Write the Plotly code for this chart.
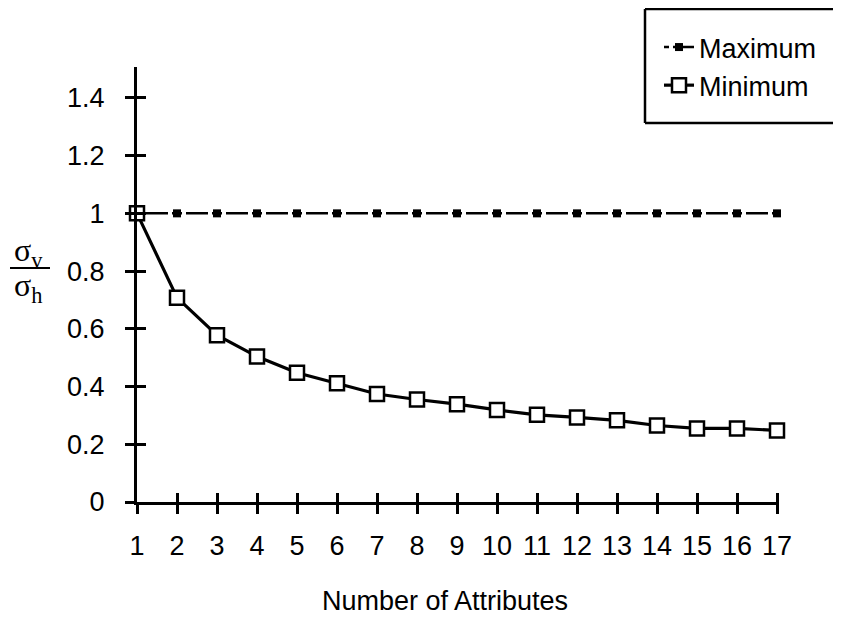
import plotly.graph_objects as go

# ---- data ----
attributes = list(range(1, 18))
maximum = [1.0, 1.0, 1.0, 1.0, 1.0, 1.0, 1.0, 1.0, 1.0, 1.0, 1.0, 1.0, 1.0, 1.0, 1.0, 1.0, 1.0]
minimum = [1.0, 0.708, 0.578, 0.504, 0.448, 0.411, 0.374, 0.355, 0.339, 0.319,
           0.302, 0.293, 0.283, 0.265, 0.255, 0.255, 0.248]
x_ticks = list(range(1, 18))
y_ticks = [0, 0.2, 0.4, 0.6, 0.8, 1.0, 1.2, 1.4]
y_tick_labels = ["0", "0.2", "0.4", "0.6", "0.8", "1", "1.2", "1.4"]

# ---- layout geometry (page has an 8px body margin) ----
OFF = 8
W, H = 841 - OFF, 619 - OFF
L, T = 137 - OFF, 67 - OFF
PW, PH = 642, 435
R = W - L - PW
B = H - T - PH
FONT = "Liberation Sans, Arial, Helvetica, sans-serif"
SERIF = "Liberation Serif, Times New Roman, serif"


def px_x(page_x):
    return (page_x - OFF - L) / PW


def px_y(page_y):
    return (T + PH - (page_y - OFF)) / PH


fig = go.Figure()

fig.add_trace(go.Scatter(
    x=attributes, y=maximum, name="Maximum", mode="lines+markers",
    line=dict(color="black", width=2.5, dash="5px,4px,22px,4px,5px,0px"),
    marker=dict(symbol="square", size=8, color="black"),
    cliponaxis=False,
))
fig.add_trace(go.Scatter(
    x=attributes, y=minimum, name="Minimum", mode="lines+markers",
    line=dict(color="black", width=3.2),
    marker=dict(symbol="square", size=14, color="white",
                line=dict(color="black", width=2.5)),
    cliponaxis=False,
))
# helper trace for overlay tick axes
fig.add_trace(go.Scatter(x=[None], y=[None], xaxis="x2", yaxis="y2",
                         showlegend=False, hoverinfo="skip"))

xr = [1, 17.05]
yr = [0, 1.507]
TS = 27

fig.update_layout(
    width=W, height=H,
    margin=dict(l=L, r=R, t=T, b=B, pad=0),
    paper_bgcolor="white", plot_bgcolor="white",
    font=dict(family=FONT, color="black", size=TS),
    xaxis=dict(range=xr, tickvals=x_ticks, ticks="outside", ticklen=9,
               tickwidth=2.5, tickcolor="black", showline=True, linewidth=3,
               linecolor="black", showgrid=False, zeroline=False,
               tickfont=dict(size=TS, family=FONT), ticklabelstandoff=9),
    yaxis=dict(range=yr, tickvals=y_ticks, ticktext=y_tick_labels,
               ticks="outside", ticklen=9, tickwidth=2.5, tickcolor="black",
               showline=True, linewidth=3, linecolor="black", showgrid=False,
               zeroline=False, tickfont=dict(size=TS, family=FONT),
               ticklabelstandoff=15),
    xaxis2=dict(range=xr, overlaying="x", anchor="y2", side="bottom",
                tickvals=x_ticks, ticks="inside", ticklen=9, tickwidth=2.5,
                tickcolor="black", showticklabels=False, showline=False,
                showgrid=False, zeroline=False),
    yaxis2=dict(range=yr, overlaying="y", anchor="x2", side="left",
                tickvals=y_ticks, ticks="inside", ticklen=9, tickwidth=2.5,
                tickcolor="black", showticklabels=False, showline=False,
                showgrid=False, zeroline=False),
    legend=dict(x=px_x(659), y=px_y(23), xanchor="left", yanchor="top",
                bgcolor="rgba(0,0,0,0)", borderwidth=0,
                font=dict(size=TS, family=FONT), itemwidth=30,
                tracegroupgap=0),
    showlegend=True,
)

# legend frame (open on the right, running to the edge as in the reference)
frame = dict(color="black", width=2.5)
fx0, fx1, fy0, fy1 = px_x(645), px_x(841), px_y(9), px_y(123)
fig.add_shape(type="line", xref="paper", yref="paper",
              x0=fx0, x1=fx1, y0=fy0, y1=fy0, line=frame)
fig.add_shape(type="line", xref="paper", yref="paper",
              x0=fx0, x1=fx1, y0=fy1, y1=fy1, line=frame)
fig.add_shape(type="line", xref="paper", yref="paper",
              x0=fx0, x1=fx0, y0=fy0, y1=fy1, line=frame)

# x-axis title
fig.add_annotation(text="Number of Attributes", xref="paper", yref="paper",
                   x=px_x(445), y=px_y(601), xanchor="center", yanchor="middle",
                   showarrow=False, font=dict(size=TS, family=FONT))

# y-axis label as a fraction sigma_v / sigma_h
fig.add_annotation(text="σ<sub>v</sub>", xref="paper", yref="paper",
                   x=px_x(28), y=px_y(252), xanchor="center", yanchor="middle",
                   showarrow=False, font=dict(size=32, family=SERIF))
fig.add_annotation(text="σ<sub>h</sub>", xref="paper", yref="paper",
                   x=px_x(28), y=px_y(287), xanchor="center", yanchor="middle",
                   showarrow=False, font=dict(size=32, family=SERIF))
fig.add_shape(type="line", xref="paper", yref="paper",
              x0=px_x(10), x1=px_x(50), y0=px_y(268), y1=px_y(268),
              line=dict(color="black", width=2))

fig.write_html("out.html")
